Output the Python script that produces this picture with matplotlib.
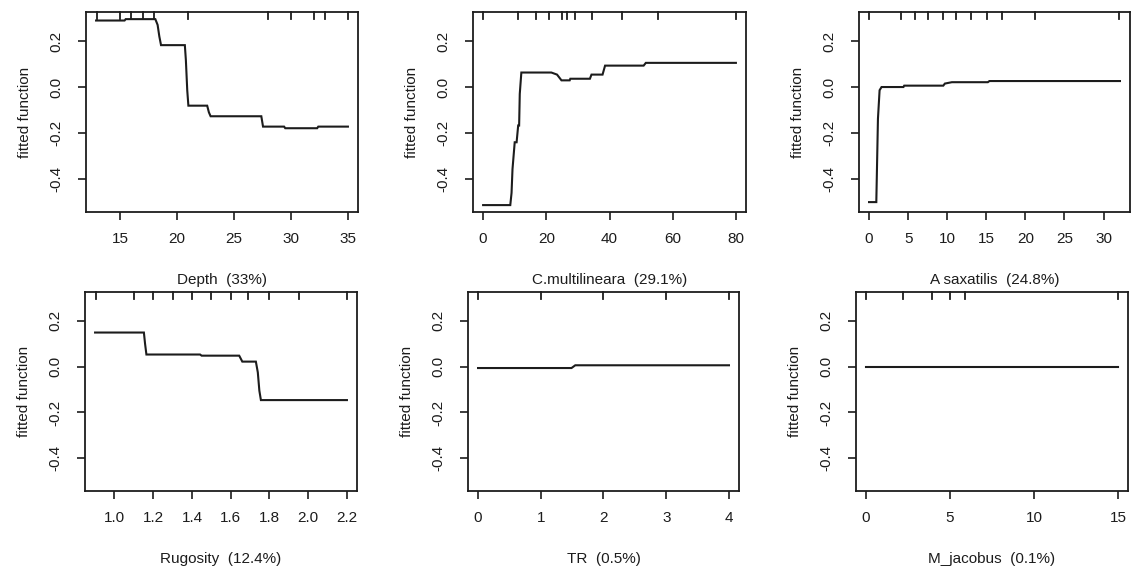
import matplotlib
matplotlib.use("Agg")
import matplotlib.pyplot as plt

plt.rcParams["font.family"] = ["Liberation Sans", "DejaVu Sans"]
plt.rcParams["axes.unicode_minus"] = False

# ---- data ----
depth_x = [12.9, 15.4, 15.5, 18.1, 18.3, 18.45, 18.6, 20.69, 20.78, 20.9, 21.0,
           22.65, 22.8, 22.95, 27.4, 27.55, 29.4, 29.5, 32.3, 32.4, 35.0]
depth_y = [0.289, 0.289, 0.295, 0.295, 0.27, 0.22, 0.182, 0.182, 0.117, -0.014, -0.081,
           -0.081, -0.11, -0.127, -0.127, -0.172, -0.172, -0.179, -0.179, -0.172, -0.172]
depth_rug = [13, 15, 16, 17, 18, 21, 28, 30, 32, 33, 35]

cmult_x = [0, 8.6, 9.0, 9.3, 10.0, 10.6, 11.1, 11.4, 11.6, 12.1, 21.6, 23.4, 24.8,
           27.4, 27.6, 33.8, 34.3, 37.8, 38.6, 50.8, 51.5, 80]
cmult_y = [-0.513, -0.513, -0.46, -0.357, -0.24, -0.24, -0.167, -0.167, -0.03, 0.063,
           0.063, 0.054, 0.029, 0.029, 0.036, 0.036, 0.054, 0.054, 0.093, 0.093, 0.105, 0.105]
cmult_rug = [0, 10.9, 16.8, 20.8, 24.9, 26.6, 29.0, 34.5, 43.8, 55.4, 80]

asax_x = [0, 0.93, 1.0, 1.14, 1.35, 1.6, 4.4, 4.5, 9.5, 9.7, 10.6, 15.2, 15.4, 32.1]
asax_y = [-0.50, -0.50, -0.38, -0.138, -0.014, 0.0, 0.0, 0.006, 0.006, 0.015, 0.021,
          0.021, 0.026, 0.026]
asax_rug = [0, 4.1, 5.9, 7.6, 9.4, 11.1, 13.0, 15.1, 17.0, 21.2, 32.0]

rug_x = [0.9, 1.152, 1.158, 1.165, 1.442, 1.45, 1.644, 1.66, 1.73, 1.74, 1.748, 1.756, 2.2]
rug_y = [0.149, 0.149, 0.1, 0.053, 0.053, 0.048, 0.048, 0.022, 0.022, -0.025, -0.105,
         -0.146, -0.146]
rug_rug = [0.905, 1.10, 1.20, 1.30, 1.40, 1.50, 1.60, 1.69, 1.80, 1.955, 2.2]

tr_x = [0, 1.49, 1.55, 4]
tr_y = [-0.006, -0.006, 0.006, 0.006]
tr_rug = [0, 1, 2, 3, 4]

mj_x = [0, 15]
mj_y = [0.0, 0.0]
mj_rug = [0, 2.2, 3.9, 5.0, 5.9, 15]

panels = [
    ("Depth  (33%)", depth_x, depth_y, depth_rug, [15, 20, 25, 30, 35], ["15", "20", "25", "30", "35"]),
    ("C.multilineara  (29.1%)", cmult_x, cmult_y, cmult_rug, [0, 20, 40, 60, 80], ["0", "20", "40", "60", "80"]),
    ("A saxatilis  (24.8%)", asax_x, asax_y, asax_rug, [0, 5, 10, 15, 20, 25, 30],
     ["0", "5", "10", "15", "20", "25", "30"]),
    ("Rugosity  (12.4%)", rug_x, rug_y, rug_rug, [1.0, 1.2, 1.4, 1.6, 1.8, 2.0, 2.2],
     ["1.0", "1.2", "1.4", "1.6", "1.8", "2.0", "2.2"]),
    ("TR  (0.5%)", tr_x, tr_y, tr_rug, [0, 1, 2, 3, 4], ["0", "1", "2", "3", "4"]),
    ("M_jacobus  (0.1%)", mj_x, mj_y, mj_rug, [0, 5, 10, 15], ["0", "5", "10", "15"]),
]

yticks = [-0.4, -0.2, 0.0, 0.2]
ytick_labels = ["-0.4", "-0.2", "0.0", "0.2"]
ylim = (-0.543, 0.326)

# axes boxes in pixels: left, right, top, bottom
boxes = [
    (86, 358, 12, 212),
    (473, 746, 12, 212),
    (859, 1130, 12, 212),
    (85, 357, 292, 491),
    (468, 739, 292, 491),
    (856, 1128, 292, 491),
]

W, H = 1131, 570
fig = plt.figure(figsize=(W / 100, H / 100), dpi=100)
ink = "#1c1c1c"
fs = 11

for (label, xs, ys, rug, xt, xtl), (l, r, t, b) in zip(panels, boxes):
    ax = fig.add_axes([l / W, 1 - b / H, (r - l) / W, (b - t) / H])
    ax.plot(xs, ys, color=ink, lw=1.5, solid_joinstyle="miter")
    span = max(xs) - min(xs)
    ax.set_xlim(min(xs) - 0.04 * span, max(xs) + 0.04 * span)
    ax.set_ylim(*ylim)
    # decile rug along the top edge
    for q in rug:
        ax.plot([q, q], [1.0, 0.965], color=ink, lw=1.3,
                transform=ax.get_xaxis_transform(), clip_on=False)
    ax.set_xticks(xt)
    ax.set_xticklabels(xtl)
    ax.set_yticks(yticks)
    ax.set_yticklabels(ytick_labels, rotation=90, va="center")
    ax.tick_params(axis="x", direction="out", length=5.5, width=1.2, pad=9,
                   labelsize=fs, colors=ink)
    ax.tick_params(axis="y", direction="out", length=5.5, width=1.2, pad=10.5,
                   labelsize=fs, colors=ink)
    for sp in ax.spines.values():
        sp.set_linewidth(1.3)
        sp.set_color(ink)
    ax.set_xlabel(label, fontsize=fs, color=ink, labelpad=19)
    ax.set_ylabel("fitted function", fontsize=fs, color=ink, labelpad=13)

fig.savefig("out.png", dpi=100)
